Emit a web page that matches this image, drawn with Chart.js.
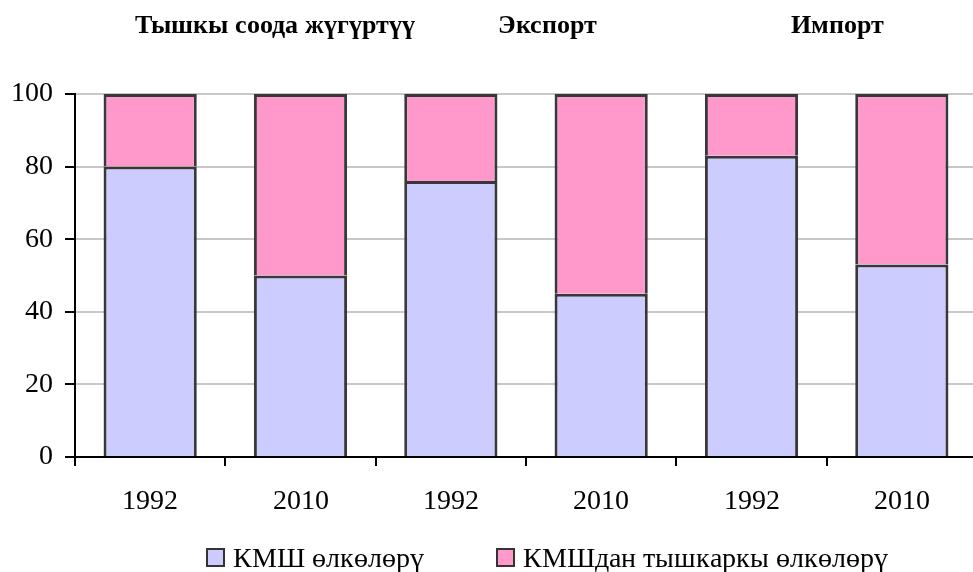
<!DOCTYPE html>
<html>
<head>
<meta charset="utf-8">
<script src="https://cdn.jsdelivr.net/npm/chart.js@4.4.1/dist/chart.umd.min.js"></script>
<style>
  @font-face {
    font-family: "RefSerif";
    font-weight: 400;
    src: local("Liberation Serif"), local("LiberationSerif"), local("Times New Roman");
  }
  @font-face {
    font-family: "RefSerif";
    font-weight: 700;
    src: local("Liberation Serif Bold"), local("LiberationSerif-Bold"), local("Times New Roman Bold");
  }
  body { margin: 0; overflow: hidden; background: #fff; }
  #wrap { position: relative; width: 977px; height: 572px; }
</style>
</head>
<body>
<div id="wrap"><canvas id="myChart"></canvas></div>
<script>
// data
const categories = ['1992', '2010', '1992', '2010', '1992', '2010'];
const cisValues = [80, 50, 76, 45, 83, 53];
const nonCisValues = [20, 50, 24, 55, 17, 47];
const seriesNames = ['КМШ өлкөлөрү', 'КМШдан тышкаркы өлкөлөрү'];
const groupTitles = ['Тышкы соода жүгүртүү', 'Экспорт', 'Импорт'];
const yTickStep = 20;

const serif = 'RefSerif, "Liberation Serif", "DejaVu Serif", serif';
const colors = ['#CCCCFF', '#FF99CC'];

// group headings above the plot
const titlesPlugin = {
    id: 'groupTitles',
    afterDraw(chart) {
        const ctx = chart.ctx;
        const xs = [275, 547, 837];
        ctx.save();
        ctx.font = 'bold 26px ' + serif;
        ctx.fillStyle = '#000';
        ctx.textAlign = 'center';
        ctx.textBaseline = 'alphabetic';
        groupTitles.forEach((t, i) => ctx.fillText(t, xs[i], 33));
        ctx.restore();
    }
};

// legend placed like the original (not centred on the canvas)
const legendPlugin = {
    id: 'sideLegend',
    afterDraw(chart) {
        const ctx = chart.ctx;
        const xs = [207, 497];
        ctx.save();
        ctx.font = '28px ' + serif;
        ctx.textBaseline = 'alphabetic';
        chart.data.datasets.forEach((ds, i) => {
            ctx.fillStyle = ds.backgroundColor;
            ctx.fillRect(xs[i], 549, 17, 17);
            ctx.strokeStyle = '#333';
            ctx.lineWidth = 2;
            ctx.strokeRect(xs[i], 549, 17, 17);
            ctx.fillStyle = '#000';
            ctx.fillText(ds.label, xs[i] + 26, 567);
        });
        ctx.restore();
    }
};

function renderChart() {
    const ctx = document.getElementById('myChart').getContext('2d');
    new Chart(ctx, {
        type: 'bar',
        data: {
            labels: categories,
            datasets: [
                { label: seriesNames[0], data: cisValues, backgroundColor: colors[0] },
                { label: seriesNames[1], data: nonCisValues, backgroundColor: colors[1] }
            ]
        },
        options: {
            responsive: true,
            maintainAspectRatio: false,
            animation: false,
            layout: { padding: { top: 94, bottom: 55, left: 0, right: 0 } },
            datasets: {
                bar: {
                    barPercentage: 0.62,
                    categoryPercentage: 1.0,
                    borderWidth: 3,
                    borderColor: '#383838',
                    borderSkipped: 'start' // join between segments shows one line only
                }
            },
            plugins: {
                legend: { display: false },
                tooltip: { enabled: false }
            },
            scales: {
                x: {
                    stacked: true,
                    grid: { offset: true, drawOnChartArea: false, tickLength: 9, tickColor: '#000', lineWidth: 2 },
                    border: { color: '#000', width: 2 },
                    ticks: { font: { family: serif, size: 28 }, color: '#000', padding: 19, maxRotation: 0 },
                    afterFit(s) { s.height = 60; }
                },
                y: {
                    stacked: true,
                    min: 0,
                    max: 100,
                    grid: { color: '#c8c8c8', lineWidth: 2, tickLength: 10, tickColor: '#000' },
                    border: { color: '#000', width: 2 },
                    ticks: { stepSize: yTickStep, font: { family: serif, size: 28 }, color: '#000', padding: 12 },
                    afterFit(s) { s.width = 75; }
                }
            }
        },
        plugins: [titlesPlugin, legendPlugin]
    });
}

// load the local serif faces first, then draw
Promise.all([
    document.fonts.load('28px RefSerif', 'КМШ 1992'),
    document.fonts.load('bold 26px RefSerif', 'Импорт')
]).then(renderChart, renderChart);
</script>
</body>
</html>
